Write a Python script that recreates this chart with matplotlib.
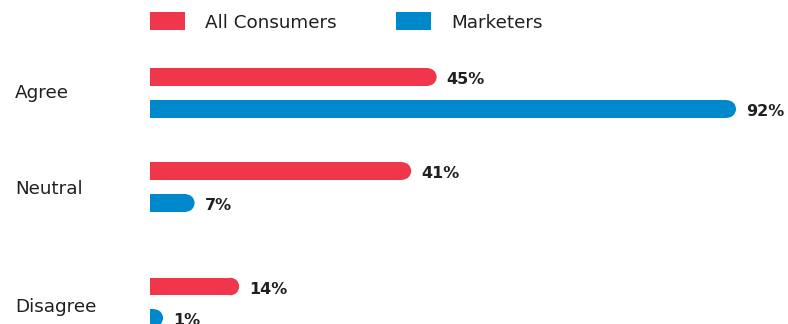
import matplotlib.pyplot as plt
from matplotlib.patches import Ellipse, Rectangle

categories = ['Agree', 'Neutral', 'Disagree']
series_names = ['All Consumers', 'Marketers']
consumers = [45, 41, 14]
marketers = [92, 7, 1]
colors = ['#F0364A', '#0088CC']
text_color = '#231F20'

plt.rcParams['font.family'] = ['DejaVu Sans']

W, H = 788, 324
fig = plt.figure(figsize=(W / 100, H / 100), dpi=100)
ax = fig.add_axes([0, 0, 1, 1])

# x in percent, y in pixel rows (top = 0)
x0_px = 150
px_per_pct = (736 - x0_px) / 92
ax.set_xlim(-x0_px / px_per_pct, (W - x0_px) / px_per_pct)
ax.set_ylim(H, 0)
ax.axis('off')

bar_h = 17.5
cap_r = (bar_h / 2) / px_per_pct  # cap radius in percent units
min_body = 0.67

bar_rows = [(77, 109), (171, 203), (286.5, 318)]
label_base = [97.5, 194.5, 311.5]

# keep round caps from poking out left of zero
clip = Rectangle((0, 0), 200, H, transform=ax.transData)

for i, cat in enumerate(categories):
    ax.text(-x0_px / px_per_pct + 15 / px_per_pct, label_base[i], cat,
            fontsize=13.2, color=text_color, va='baseline', ha='left')
    for j, vals in enumerate([consumers, marketers]):
        v = vals[i]
        y = bar_rows[i][j]
        body = max(v - cap_r, min_body)
        ax.barh(y, body, height=bar_h, left=0, color=colors[j], linewidth=0)
        cap = Ellipse((body, y), 2 * cap_r, bar_h, color=colors[j], lw=0)
        ax.add_patch(cap)
        cap.set_clip_path(clip)
        ax.text(body + cap_r + 10 / px_per_pct, y + 7.3, f'{v}%', fontsize=11.5,
                color=text_color, va='baseline', ha='left', fontweight='semibold')

# legend
legend_x = [150, 396]
for j, name in enumerate(series_names):
    lx = (legend_x[j] - x0_px) / px_per_pct
    ax.add_patch(Rectangle((lx, 12), 35 / px_per_pct, 18, color=colors[j], lw=0))
    ax.text(lx + 55 / px_per_pct, 27.5, name, fontsize=13.2, color=text_color,
            va='baseline', ha='left')

fig.savefig('out.png', dpi=100, facecolor='white')
